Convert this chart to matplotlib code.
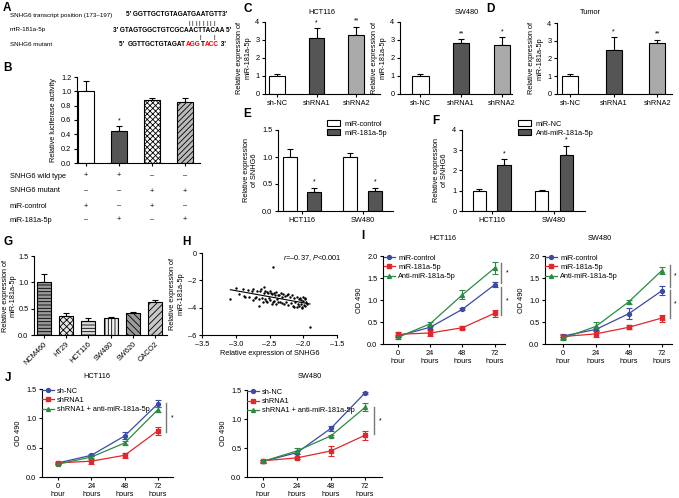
import numpy as np
import matplotlib.pyplot as plt
from matplotlib.patches import Patch
from matplotlib.lines import Line2D
from matplotlib.transforms import blended_transform_factory

FS = 5.3
plt.rcParams['font.family'] = ['Liberation Sans', 'DejaVu Sans']
plt.rcParams['font.size'] = FS
plt.rcParams['axes.linewidth'] = 0.8
plt.rcParams['hatch.linewidth'] = 0.6
plt.rcParams['mathtext.fontset'] = 'custom'
plt.rcParams['mathtext.rm'] = 'Liberation Sans'
plt.rcParams['mathtext.it'] = 'Liberation Sans:italic'

# ---------------- datos ----------------
# A: secuencias
sec_snhg6 = "GGTTGCTGTAGATGAATGTT"
sec_mir = "GTAGTGGCTGTCGCAACTTACAA"
sec_mutante = [("GGTTGCTGTAGAT", "black"), ("AGG", "red"), ("T", "black"), ("ACC", "red")]

# B: luciferasa
luc_media = [1.0, 0.45, 0.88, 0.85]
luc_error = [0.14, 0.07, 0.02, 0.06]
luc_estrella = ["", "*", "", ""]
luc_filas = ["SNHG6 wild type", "SNHG6 mutant", "miR-control", "miR-181a-5p"]
luc_signos = [["+", "+", "–", "–"],
              ["–", "–", "+", "+"],
              ["+", "–", "+", "–"],
              ["–", "+", "–", "+"]]

# C y D: miR-181a-5p tras shRNA
grupos_sh = ["sh-NC", "shRNA1", "shRNA2"]
hct_mir = [1.0, 3.1, 3.25]
hct_mir_err = [0.12, 0.55, 0.48]
hct_mir_est = ["", "*", "**"]
sw_mir = [1.0, 2.85, 2.7]
sw_mir_err = [0.12, 0.2, 0.45]
sw_mir_est = ["", "**", "*"]
tumor_mir = [1.0, 2.5, 2.85]
tumor_mir_err = [0.12, 0.7, 0.2]
tumor_mir_est = ["", "*", "**"]

# E y F: SNHG6
lineas_ef = ["HCT116", "SW480"]
e_control = [1.0, 1.0]
e_control_err = [0.14, 0.07]
e_mimic = [0.35, 0.37]
e_mimic_err = [0.07, 0.06]
f_nc = [1.0, 1.0]
f_nc_err = [0.1, 0.05]
f_anti = [2.25, 2.75]
f_anti_err = [0.3, 0.45]

# G: lineas celulares
lineas_g = ["NCM460", "HT29", "HCT116", "SW480", "SW620", "CACO2"]
g_media = [1.0, 0.37, 0.27, 0.32, 0.42, 0.63]
g_error = [0.16, 0.04, 0.05, 0.02, 0.02, 0.04]

# H: correlacion
h_snhg6 = [-3.08, -3.00, -2.95, -2.90, -2.86, -2.82, -2.80, -2.76, -2.74, -2.72,
           -2.70, -2.68, -2.66, -2.64, -2.62, -2.61, -2.60, -2.58, -2.57, -2.56,
           -2.55, -2.54, -2.53, -2.52, -2.51, -2.50, -2.49, -2.48, -2.47, -2.46,
           -2.45, -2.45, -2.44, -2.43, -2.42, -2.41, -2.40, -2.39, -2.38, -2.37,
           -2.36, -2.35, -2.33, -2.32, -2.31, -2.30, -2.28, -2.27, -2.25, -2.24,
           -2.22, -2.20, -2.18, -2.17, -2.15, -2.13, -2.12, -2.10, -2.09, -2.08,
           -2.07, -2.06, -2.05, -2.04, -2.03, -2.02, -2.01, -2.00, -1.99, -1.98,
           -1.97, -1.96, -1.95, -1.90, -2.65, -2.58, -2.75, -2.88, -2.23, -2.14,
           -1.97, -2.02]
h_mir = [-3.35, -2.55, -3.00, -2.60, -3.20, -2.70, -3.25, -2.80, -2.60, -3.30,
         -3.25, -2.75, -3.40, -2.80, -2.65, -3.30, -3.55, -2.90, -3.35, -2.80,
         -3.50, -2.85, -3.60, -2.95, -3.30, -2.75, -3.45, -2.90, -3.70, -3.00,
         -3.55, -1.00, -2.95, -3.50, -3.05, -3.75, -2.85, -3.40, -3.10, -3.60,
         -3.05, -3.55, -2.90, -3.65, -3.20, -3.00, -3.70, -3.15, -3.55, -3.05,
         -3.80, -3.25, -3.65, -3.10, -3.85, -3.30, -3.60, -3.95, -3.20, -3.70,
         -3.40, -3.85, -3.30, -3.75, -3.45, -4.05, -3.50, -3.25, -3.80, -3.40,
         -3.90, -3.55, -3.70, -5.45, -3.85, -2.50, -3.45, -3.15, -3.00, -3.95,
         -3.30, -3.95]

# I y J: curvas de proliferacion
horas = [0, 24, 48, 72]
etiquetas_horas = ["0\nhour", "24\nhours", "48\nhours", "72\nhours"]
i_etiquetas = ["miR-control", "miR-181a-5p", "Anti-miR-181a-5p"]
i_hct_ctrl = [0.18, 0.38, 0.79, 1.35]
i_hct_ctrl_err = [0.02, 0.03, 0.02, 0.05]
i_hct_mimic = [0.22, 0.25, 0.37, 0.70]
i_hct_mimic_err = [0.05, 0.07, 0.04, 0.08]
i_hct_anti = [0.15, 0.46, 1.12, 1.73]
i_hct_anti_err = [0.04, 0.05, 0.10, 0.13]
i_sw_ctrl = [0.18, 0.33, 0.69, 1.21]
i_sw_ctrl_err = [0.03, 0.03, 0.12, 0.10]
i_sw_mimic = [0.17, 0.23, 0.38, 0.59]
i_sw_mimic_err = [0.05, 0.08, 0.05, 0.08]
i_sw_anti = [0.13, 0.40, 0.96, 1.67]
i_sw_anti_err = [0.03, 0.10, 0.05, 0.08]

j_etiquetas = ["sh-NC", "shRNA1", "shRNA1 + anti-miR-181a-5p"]
j_hct_nc = [0.24, 0.37, 0.70, 1.25]
j_hct_nc_err = [0.02, 0.02, 0.06, 0.06]
j_hct_sh = [0.24, 0.27, 0.37, 0.79]
j_hct_sh_err = [0.02, 0.04, 0.04, 0.07]
j_hct_res = [0.22, 0.34, 0.58, 1.15]
j_hct_res_err = [0.02, 0.02, 0.04, 0.05]
j_sw_nc = [0.27, 0.42, 0.84, 1.45]
j_sw_nc_err = [0.02, 0.03, 0.04, 0.02]
j_sw_sh = [0.28, 0.33, 0.45, 0.72]
j_sw_sh_err = [0.02, 0.02, 0.08, 0.08]
j_sw_res = [0.27, 0.45, 0.71, 1.20]
j_sw_res_err = [0.02, 0.05, 0.02, 0.07]

AZUL, ROJO, VERDE = '#3b4aa6', '#e3262b', '#2b8a44'

# ---------------- figura ----------------
W, H = 679, 498
fig = plt.figure(figsize=(W / 100, H / 100), dpi=100)
renderer = fig.canvas.get_renderer()


def caja(l, t, r, b):
    ax = fig.add_axes([l / W, 1 - b / H, (r - l) / W, (b - t) / H])
    ax.spines['top'].set_visible(False)
    ax.spines['right'].set_visible(False)
    ax.tick_params(length=2.5, width=0.8, pad=1.5, labelsize=FS)
    return ax


def texto(x, y, s, **kw):
    return fig.text(x / W, 1 - y / H, s, **kw)


def letra(x, y, s):
    texto(x, y, s, fontsize=8.5, fontweight='bold', va='top', ha='left')


def barras(ax, x, vals, errs, colores, hatches=None, ancho=0.45, estrellas=None):
    for i in range(len(vals)):
        ax.bar(x[i], vals[i], ancho, color=colores[i], edgecolor='black', linewidth=0.8,
               hatch=None if hatches is None else hatches[i], zorder=2)
    ax.errorbar(x, vals, yerr=[np.zeros(len(vals)), errs], fmt='none', ecolor='black',
                elinewidth=0.8, capsize=2.5, capthick=0.8, zorder=1)
    if estrellas:
        top = ax.get_ylim()[1]
        for xi, v, e, s in zip(x, vals, errs, estrellas):
            if s:
                ax.text(xi, v + e + top * 0.03, s, ha='center', va='bottom', fontsize=5)


def curvas(ax, series, errores, etiquetas):
    colores = [AZUL, ROJO, VERDE]
    marcas = ['o', 's', '^']
    for s, e, c, m in zip(series, errores, colores, marcas):
        ax.errorbar(horas, s, yerr=e, color=c, marker=m, markersize=2.8, lw=0.9,
                    capsize=2, elinewidth=0.8, capthick=0.8)
    manijas = [Line2D([0], [0], color=c, marker=m, markersize=2.8, lw=0.9)
               for c, m in zip(colores, marcas)]
    ax.legend(manijas, etiquetas, loc='upper left', bbox_to_anchor=(-0.02, 1.05),
              frameon=False, fontsize=FS, handlelength=1.6, handletextpad=0.4,
              labelspacing=0.3, borderaxespad=0)
    ax.set_xticks(horas)
    ax.set_xticklabels(etiquetas_horas, linespacing=1.35)
    ax.set_ylabel("OD 490", labelpad=3)


def corchete(ax, x, y0, y1):
    ax.plot([x, x], [y0, y1], color='#777777', lw=1, clip_on=False)
    ax.text(x + 3, (y0 + y1) / 2, "*", fontsize=5, ha='left', va='center')


# ---- A ----
letra(3, 2, "A")
texto(10, 15, "SNHG6 transcript position (173–197)", fontsize=4.5, va='center')
texto(10, 30, "miR-181a-5p", fontsize=4.5, va='center')
texto(10, 44, "SNHG6 mutant", fontsize=4.5, va='center')
kw_sec = dict(fontsize=4.7, fontweight='bold', va='center')
texto(126, 15, "5′ " + sec_snhg6 + "3′", **kw_sec)
texto(113, 30, "3′ " + sec_mir + " 5′", **kw_sec)
x = 119
for s, c in [("5′  ", "black")] + sec_mutante + [(" 3′", "black")]:
    t = texto(x, 44, s, color=c, **kw_sec)
    x = t.get_window_extent(renderer).x1
for xb in np.linspace(189, 214, 8):
    texto(xb, 23, "|", fontsize=4.5, ha='center', va='center')
for xb in [200, 214]:
    texto(xb, 37, "|", fontsize=4.5, ha='center', va='center')

# ---- B ----
letra(3, 62, "B")
axB = caja(77, 77, 200, 163)
xB = np.arange(len(luc_media))
barras(axB, xB, luc_media, luc_error,
       ['white', '#555555', 'white', '#bbbbbb'],
       hatches=[None, None, 'xxxxxx', '//////'], ancho=0.5)
axB.set_ylim(0, 1.2)
axB.set_xlim(-0.27, 3.45)
axB.set_yticks(np.arange(0, 1.21, 0.2))
axB.set_yticklabels([f"{v:.1f}" for v in np.arange(0, 1.21, 0.2)])
axB.set_xticks(xB)
axB.set_xticklabels([])
axB.set_ylabel("Relative luciferase activity", labelpad=3)
axB.text(xB[1], luc_media[1] + luc_error[1] + 0.05, luc_estrella[1], ha='center', fontsize=5)
trB = blended_transform_factory(axB.transData, fig.transFigure)
for fila, signos, y in zip(luc_filas, luc_signos, [176, 191, 206, 220]):
    texto(10, y, fila, fontsize=FS, va='center')
    for xi, s in zip(xB, signos):
        axB.text(xi, 1 - y / H, s, transform=trB, ha='center', va='center', fontsize=FS)

# ---- C ----
letra(243, 3, "C")
for (l, r, xlim, vals, errs, est, tit, xt) in [
        (265, 380, (-0.3, 2.6), hct_mir, hct_mir_err, hct_mir_est, "HCT116", 322),
        (400, 512, (-0.5, 2.25), sw_mir, sw_mir_err, sw_mir_est, "SW480", 467)]:
    ax = caja(l, 22, r, 94)
    ax.set_ylim(0, 4)
    ax.set_xlim(*xlim)
    barras(ax, np.arange(3), vals, errs, ['white', '#555555', '#aaaaaa'], ancho=0.4, estrellas=est)
    ax.set_yticks([0, 1, 2, 3, 4])
    ax.set_xticks(np.arange(3))
    ax.set_xticklabels(grupos_sh)
    ax.set_ylabel("Relative expression of\nmiR-181a-5p", labelpad=3)
    texto(xt, 13, tit, fontsize=FS, ha='center', va='center')

# ---- D ----
letra(486, 3, "D")
axD = caja(557, 23, 672, 94)
axD.set_ylim(0, 4)
axD.set_xlim(-0.3, 2.34)
barras(axD, np.arange(3), tumor_mir, tumor_mir_err, ['white', '#555555', '#aaaaaa'],
       ancho=0.37, estrellas=tumor_mir_est)
axD.set_yticks([0, 1, 2, 3, 4])
axD.set_xticks(np.arange(3))
axD.set_xticklabels(grupos_sh)
axD.set_ylabel("Relative expression of\nmiR-181a-5p", labelpad=3)
texto(590, 13, "Tumor", fontsize=FS, ha='center', va='center')

# ---- E ----
letra(243, 108, "E")
axE = caja(278, 130, 393, 211)
axE.set_ylim(0, 1.5)
axE.set_xlim(-0.39, 1.5)
xE = np.arange(2)
barras(axE, xE - 0.2, e_control, e_control_err, ['white'] * 2, ancho=0.23)
barras(axE, xE + 0.2, e_mimic, e_mimic_err, ['#555555'] * 2, ancho=0.23, estrellas=["*", "*"])
axE.set_yticks([0, 0.5, 1.0, 1.5])
axE.set_yticklabels(["0.0", "0.5", "1.0", "1.5"])
axE.set_xticks(xE)
axE.set_xticklabels(lineas_ef)
axE.set_ylabel("Relative expression\nof SNHG6", labelpad=3)
axE.legend([Patch(facecolor='white', edgecolor='black', lw=0.8),
            Patch(facecolor='#555555', edgecolor='black', lw=0.8)],
           ["miR-control", "miR-181a-5p"], loc='upper left',
           bbox_to_anchor=(327 / W, 1 - 120 / H), bbox_transform=fig.transFigure,
           frameon=False, fontsize=FS, handlelength=1.8, handleheight=0.9,
           handletextpad=0.6, labelspacing=0.2, borderaxespad=0, borderpad=0)

# ---- F ----
letra(432, 115, "F")
axF = caja(462, 130, 585, 211)
axF.set_ylim(0, 4)
axF.set_xlim(-0.48, 1.5)
barras(axF, xE - 0.2, f_nc, f_nc_err, ['white'] * 2, ancho=0.22)
barras(axF, xE + 0.2, f_anti, f_anti_err, ['#555555'] * 2, ancho=0.22, estrellas=["*", "*"])
axF.set_yticks([0, 1, 2, 3, 4])
axF.set_xticks(xE)
axF.set_xticklabels(lineas_ef)
axF.set_ylabel("Relative expression\nof SNHG6", labelpad=3)
axF.legend([Patch(facecolor='white', edgecolor='black', lw=0.8),
            Patch(facecolor='#555555', edgecolor='black', lw=0.8)],
           ["miR-NC", "Anti-miR-181a-5p"], loc='upper left',
           bbox_to_anchor=(518 / W, 1 - 120 / H), bbox_transform=fig.transFigure,
           frameon=False, fontsize=FS, handlelength=1.8, handleheight=0.9,
           handletextpad=0.6, labelspacing=0.2, borderaxespad=0, borderpad=0)

# ---- G ----
letra(3, 236, "G")
axG = caja(34, 256, 167, 335)
axG.set_ylim(0, 1.5)
axG.set_xlim(-0.44, 5.53)
xG = np.arange(len(lineas_g))
barras(axG, xG, g_media, g_error,
       ['#9a9a9a', '#e6e6e6', '#dddddd', '#f0f0f0', '#9a9a9a', '#c8c8c8'],
       hatches=['-----', 'xxxxx', '-----', '|||||', '\\\\\\\\\\', '/////'], ancho=0.62)
axG.set_yticks([0, 0.5, 1.0, 1.5])
axG.set_yticklabels(["0.0", "0.5", "1.0", "1.5"])
axG.set_xticks(xG)
axG.set_xticklabels(lineas_g, rotation=45, ha='right', rotation_mode='anchor', fontsize=FS)
axG.set_ylabel("Relative expression of\nmiR-181a-5p", labelpad=1)

# ---- H ----
letra(182, 236, "H")
axH = caja(202, 253, 337, 335)
axH.scatter(h_snhg6, h_mir, s=3, color='black', lw=0)
pend, corte = np.polyfit(h_snhg6, h_mir, 1)
xs = np.array([min(h_snhg6), max(h_snhg6)])
axH.plot(xs, pend * xs + corte, color='black', lw=0.8)
axH.set_xlim(-3.5, -1.5)
axH.set_ylim(-6, 0)
axH.set_xticks([-3.5, -3.0, -2.5, -2.0, -1.5])
axH.set_xticklabels(["–3.5", "–3.0", "–2.5", "–2.0", "–1.5"])
axH.set_yticks([-6, -4, -2, 0])
axH.set_yticklabels(["–6", "–4", "–2", "0"])
axH.set_xlabel("Relative expression of SNHG6", labelpad=2)
axH.set_ylabel("Relative expression of\nmiR-181a-5p", labelpad=3)
texto(283, 258, "$r$=–0.37, $P$<0.001", fontsize=FS, ha='left', va='center')

# ---- I ----
letra(361, 230, "I")
axI1 = caja(383, 256, 505, 344)
curvas(axI1, [i_hct_ctrl, i_hct_mimic, i_hct_anti],
       [i_hct_ctrl_err, i_hct_mimic_err, i_hct_anti_err], i_etiquetas)
axI1.set_xlim(-11, 79.6)
axI1.set_ylim(0, 2.0)
axI1.set_yticks([0, 0.5, 1.0, 1.5, 2.0])
axI1.set_yticklabels(["0.0", "0.5", "1.0", "1.5", "2.0"])
corchete(axI1, 77, 1.84, 1.39)
corchete(axI1, 77, 1.30, 0.66)
texto(443, 239, "HCT116", fontsize=FS, ha='center', va='center')

axI2 = caja(545, 256, 672, 344)
curvas(axI2, [i_sw_ctrl, i_sw_mimic, i_sw_anti],
       [i_sw_ctrl_err, i_sw_mimic_err, i_sw_anti_err], i_etiquetas)
axI2.set_xlim(-13, 79.4)
axI2.set_ylim(0, 2.0)
axI2.set_yticks([0, 0.5, 1.0, 1.5, 2.0])
axI2.set_yticklabels(["0.0", "0.5", "1.0", "1.5", "2.0"])
corchete(axI2, 78, 1.80, 1.30)
corchete(axI2, 78, 1.23, 0.59)
texto(600, 239, "SW480", fontsize=FS, ha='center', va='center')

# ---- J ----
letra(5, 372, "J")
axJ1 = caja(42, 389, 173, 477)
curvas(axJ1, [j_hct_nc, j_hct_sh, j_hct_res],
       [j_hct_nc_err, j_hct_sh_err, j_hct_res_err], j_etiquetas)
axJ1.set_xlim(-11.5, 82.8)
axJ1.set_ylim(0, 1.5)
axJ1.set_yticks([0, 0.5, 1.0, 1.5])
axJ1.set_yticklabels(["0.0", "0.5", "1.0", "1.5"])
corchete(axJ1, 78, 1.26, 0.77)
texto(97, 377, "HCT116", fontsize=FS, ha='center', va='center')

axJ2 = caja(247, 390, 382, 477)
curvas(axJ2, [j_sw_nc, j_sw_sh, j_sw_res],
       [j_sw_nc_err, j_sw_sh_err, j_sw_res_err], j_etiquetas)
axJ2.set_xlim(-11.3, 84)
axJ2.set_ylim(0, 1.5)
axJ2.set_yticks([0, 0.5, 1.0, 1.5])
axJ2.set_yticklabels(["0.0", "0.5", "1.0", "1.5"])
corchete(axJ2, 78.6, 1.2, 0.75)
texto(310, 377, "SW480", fontsize=FS, ha='center', va='center')

fig.savefig("out.png", dpi=100)
